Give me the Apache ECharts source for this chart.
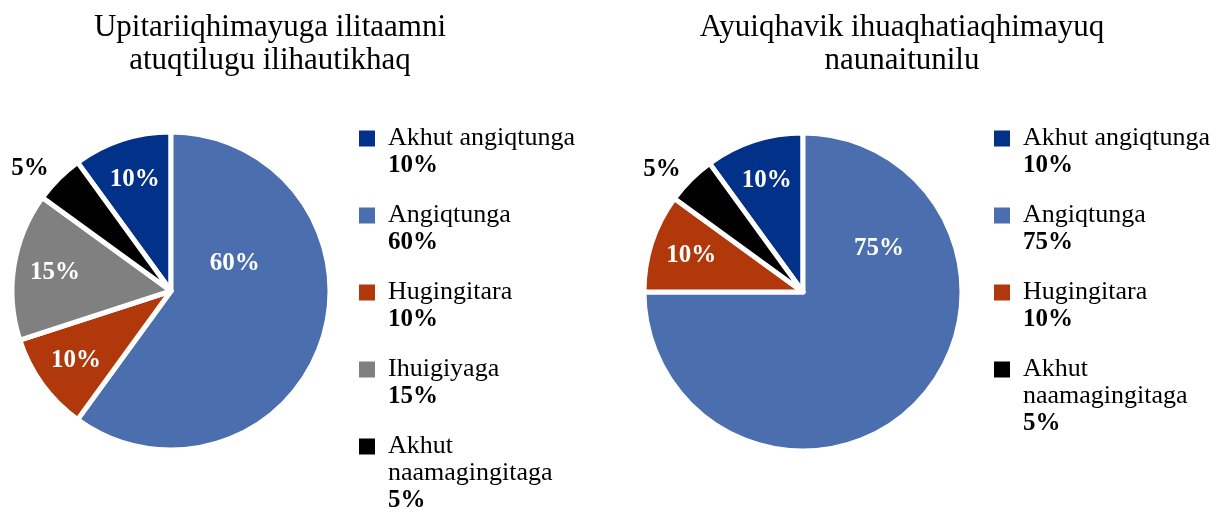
<!DOCTYPE html>
<html>
<head>
<meta charset="utf-8">
<script src="https://cdn.jsdelivr.net/npm/echarts@6/dist/echarts.min.js"></script>
<style>
  html, body { margin: 0; padding: 0; background: #fff; }
  #chart { width: 1220px; height: 519px; }
</style>
</head>
<body>
<div id="chart"></div>
<script>
// two pies: school-time feelings (left) vs home-time feelings (right)
var title1 = 'Upitariiqhimayuga ilitaamni\natuqtilugu ilihautikhaq';
var title2 = 'Ayuiqhavik ihuaqhatiaqhimayuq\nnaunaitunilu';

var names1 = ['Akhut angiqtunga', 'Angiqtunga', 'Hugingitara', 'Ihuigiyaga', 'Akhut naamagingitaga'];
var values1 = [10, 60, 10, 15, 5];

var names2 = ['Akhut angiqtunga', 'Angiqtunga', 'Hugingitara', 'Akhut naamagingitaga'];
var values2 = [10, 75, 10, 5];

var allNames = ['Akhut angiqtunga', 'Angiqtunga', 'Hugingitara', 'Ihuigiyaga', 'Akhut naamagingitaga'];
var colors = ['#02318a', '#4b6eae', '#b0380b', '#808080', '#000000'];

(function() {
  var serif = "'Liberation Serif', 'Times New Roman', serif";
  var chart = echarts.init(document.getElementById('chart'), null, { renderer: 'canvas' });

  function colorOf(name) { return colors[allNames.indexOf(name)]; }

  // legend text: square + name, bold percentage below
  var rich = {
    g: { width: 29, lineHeight: 27 },
    h: { width: 13, lineHeight: 27 },
    n: { fontFamily: serif, fontSize: 26, lineHeight: 27, color: '#000' },
    p: { fontFamily: serif, fontSize: 25, fontWeight: 'bold', lineHeight: 27, color: '#000' }
  };
  allNames.forEach(function(n, i) {
    rich['c' + i] = { width: 16, height: 16, backgroundColor: colors[i], lineHeight: 27 };
  });

  function legendFormatter(names, values) {
    return function(name) {
      var i = names.indexOf(name);
      var ci = allNames.indexOf(name);
      var lines = name.length > 18 ? name.replace(' ', '\n').split('\n') : [name];
      var out = '{c' + ci + '| }{h| }{n|' + lines[0] + '}';
      for (var k = 1; k < lines.length; k++) out += '\n{g| }{n|' + lines[k] + '}';
      out += '\n{g| }{p|' + values[i] + '%}';
      return out;
    };
  }

  function buildData(names, values, small) {
    return names.map(function(n, i) {
      var v = values[i];
      return {
        name: n, value: v,
        itemStyle: { color: small ? 'rgba(0,0,0,0)' : colorOf(n) },
        label: { show: small ? v > 5 : v <= 5 }
      };
    });
  }

  function bigIndex(values) {
    return values.indexOf(Math.max.apply(null, values));
  }

  function pieSeries(names, values, center, nudge) {
    var big = bigIndex(values);
    return [{
      type: 'pie',
      center: center,
      radius: [0, 159],
      startAngle: 126,
      avoidLabelOverlap: false,
      data: buildData(names, values, false),
      itemStyle: { borderColor: '#fff', borderWidth: 5 },
      label: {
        position: 'outside',
        formatter: '{c}%',
        fontFamily: serif, fontSize: 25, fontWeight: 'bold', color: '#000',
        distanceToLabelLine: 0
      },
      labelLine: { show: false, length: 14, length2: 0 },
      emphasis: { disabled: true }
    }, {
      // transparent ring that carries the inside labels further out
      type: 'pie',
      center: center,
      radius: [72, 157],
      startAngle: 126,
      silent: true,
      legendHoverLink: false,
      avoidLabelOverlap: false,
      data: buildData(names, values, true),
      label: {
        position: 'inside',
        formatter: '{c}%',
        fontFamily: serif, fontSize: 25, fontWeight: 'bold', color: '#fff'
      },
      labelLine: { show: false },
      labelLayout: function(p) {
        return p.dataIndex === big ? { dx: nudge[0], dy: nudge[1] } : {};
      },
      emphasis: { disabled: true }
    }];
  }

  var titleStyle = { fontFamily: serif, fontSize: 31, fontWeight: 'normal', color: '#000', lineHeight: 33 };

  function legendOf(names, values, left) {
    return {
      data: names,
      orient: 'vertical', left: left, top: 125, height: 600, padding: 0,
      icon: 'none', itemWidth: 0, itemHeight: 16, itemGap: 23,
      selectedMode: false,
      formatter: legendFormatter(names, values),
      textStyle: { rich: rich, fontFamily: serif, fontSize: 26, lineHeight: 27 }
    };
  }

  chart.setOption({
    animation: false,
    title: [
      { text: title1, left: 270, top: 11, textAlign: 'center', padding: 0, textStyle: titleStyle },
      { text: title2, left: 902, top: 11, textAlign: 'center', padding: 0, textStyle: titleStyle }
    ],
    legend: [legendOf(names1, values1, 354), legendOf(names2, values2, 989)],
    series: pieSeries(names1, values1, [171, 291], [-48, -64])
      .concat(pieSeries(names2, values2, [803, 292], [-7, -127]))
  });

  window.addEventListener('resize', function() { chart.resize(); });
})();
</script>
</body>
</html>
